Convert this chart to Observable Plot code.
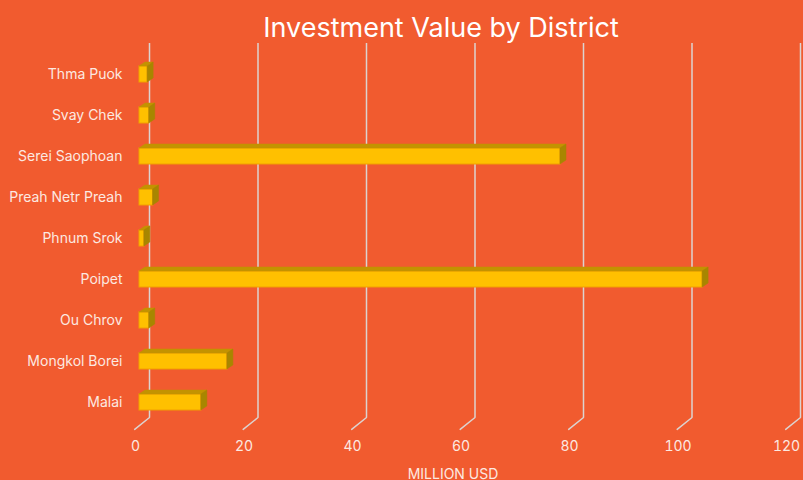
<!DOCTYPE html>
<html>
<head>
<meta charset="utf-8">
<script src="https://cdn.jsdelivr.net/npm/d3@7"></script>
<script src="https://cdn.jsdelivr.net/npm/@observablehq/plot@0.6"></script>
<style>
  html, body { margin: 0; padding: 0; background: #F15B2F; }
  #chart { width: 803px; height: 480px; overflow: hidden; }
</style>
</head>
<body>
<div id="chart"></div>
<script>
const districts = ["Thma Puok", "Svay Chek", "Serei Saophoan", "Preah Netr Preah", "Phnum Srok", "Poipet", "Ou Chrov", "Mongkol Borei", "Malai"];
const investment = [1.5, 1.8, 77.6, 2.5, 0.9, 103.8, 1.8, 16.2, 11.4];
const xTicks = [0, 20, 40, 60, 80, 100, 120];
const titleText = "Investment Value by District";
const axisLabel = "MILLION USD";

const data = districts.map((d, i) => ({district: d, value: investment[i]}));

const textColor = "#FCE9E1";
const gridColor = "#DCD3D0";
const depthX = 6, depthY = -4;

// 3D prism bars: front face drawn by Plot, top & side faces added from the drawn rects
function prismRender(index, scales, values, dimensions, context, next) {
  const g = next(index, scales, values, dimensions, context);
  const ns = "http://www.w3.org/2000/svg";
  const rects = Array.from(g.querySelectorAll("rect"));
  for (const r of rects) {
    const x = +r.getAttribute("x"), y = +r.getAttribute("y");
    const w = +r.getAttribute("width"), h = +r.getAttribute("height");
    const top = document.createElementNS(ns, "path");
    top.setAttribute("d", `M${x},${y}L${x + w},${y}L${x + w + depthX},${y + depthY}L${x + depthX},${y + depthY}Z`);
    top.setAttribute("fill", "#C39300");
    top.setAttribute("stroke", "#C39300");
    top.setAttribute("stroke-width", "0.5");
    const side = document.createElementNS(ns, "path");
    side.setAttribute("d", `M${x + w},${y}L${x + w + depthX},${y + depthY}L${x + w + depthX},${y + h + depthY}L${x + w},${y + h}Z`);
    side.setAttribute("fill", "#A88600");
    side.setAttribute("stroke", "#A88600");
    side.setAttribute("stroke-width", "0.5");
    g.appendChild(top);
    g.appendChild(side);
  }
  return g;
}

const footShape = {
  draw(context, l) { context.moveTo(0, 0); context.lineTo(0, -l); }
};

const chart = Plot.plot({
  width: 803,
  height: 480,
  marginLeft: 135,
  marginRight: 17,
  marginTop: 51,
  marginBottom: 55,
  style: {background: "#F15B2F", fontFamily: "Inter, 'Noto Sans', sans-serif", color: textColor},
  x: {domain: [0, 120], axis: null, label: null},
  y: {domain: districts, paddingInner: 0.6, paddingOuter: 0.3, axis: null, label: null},
  marks: [
    // back-wall gridlines
    Plot.ruleX(xTicks, {x: d => d, stroke: gridColor, strokeWidth: 1.5, dx: 14, dy: -8}),
    // slanted floor ticks
    Plot.vector(xTicks, {x: d => d, frameAnchor: "bottom", rotate: 231.3, length: 19, anchor: "start",
      shape: footShape, stroke: gridColor, strokeWidth: 1.5, fill: "none", dx: 14, dy: -8}),
    // bars
    Plot.barX(data, {x: "value", y: "district", fill: "#FFC000", stroke: "#F2A000", strokeWidth: 1,
      dx: 4, render: prismRender}),
    // y labels
    Plot.axisY({tickSize: 0, tickPadding: 13, fontSize: 14, color: textColor, label: null}),
    // x tick labels
    Plot.axisX(xTicks, {tickSize: 0, tickPadding: 16, fontSize: 14, color: textColor, label: null}),
    // axis label
    Plot.text([axisLabel], {frameAnchor: "bottom", dx: -8, dy: 53, fontSize: 14, fill: textColor}),
    // title
    Plot.text([titleText], {frameAnchor: "top", dx: -20, dy: -34, fontSize: 27, fill: "#FFFFFF", fontWeight: 400})
  ]
});

document.getElementById("chart").appendChild(chart);
</script>
</body>
</html>
